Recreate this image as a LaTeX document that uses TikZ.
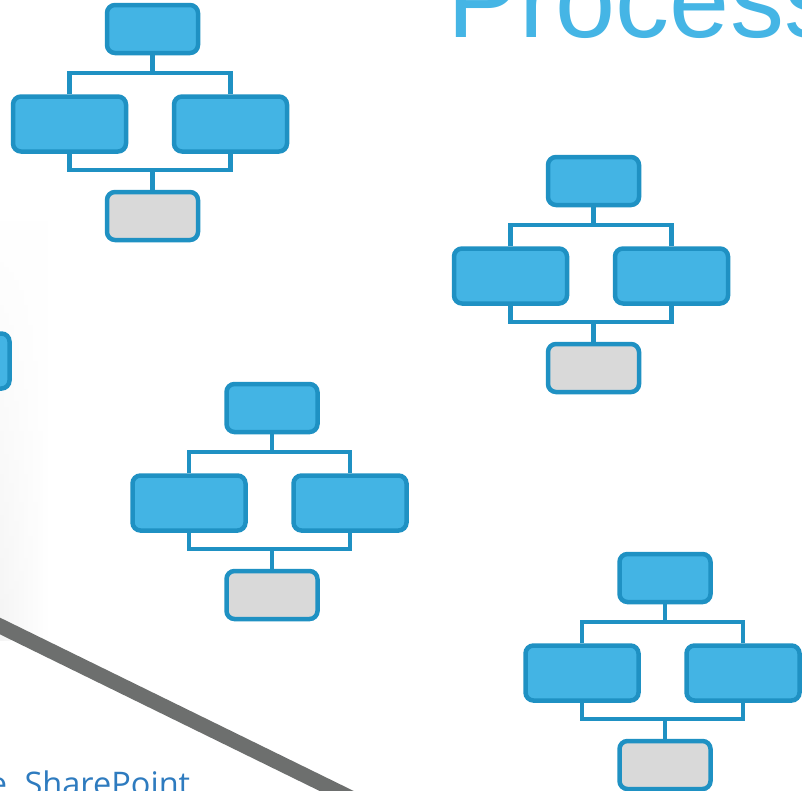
\documentclass[tikz,border=0pt]{standalone}
\usepackage{fontspec}
\usetikzlibrary{fadings}
\definecolor{boxfill}{HTML}{43B4E4}
\definecolor{boxline}{HTML}{1F91C3}
\definecolor{greyfill}{HTML}{D9D9D9}
\definecolor{titleblue}{HTML}{45B5E5}
\definecolor{spblue}{HTML}{2E7BBF}
\definecolor{rulegrey}{HTML}{6D6F6E}
\newfontfamily\titlefont{Liberation Sans}
\newfontfamily\spfont{Open Sans}
\tikzset{
  bluebox/.style={draw=boxline, fill=boxfill, line width=4.5pt, rounded corners=8pt, inner sep=0pt},
  greybox/.style={bluebox, fill=greyfill},
  conn/.style={draw=boxline, line width=4.5pt},
  diag/.style={draw=rulegrey, line width=15pt}
}
\newcommand\flowmodule[3]{%
  \begin{scope}[shift={(#2,#3)}]
    \node[bluebox, minimum width=91pt, minimum height=48pt] (#1t) at (0,26) {};
    \node[bluebox, minimum width=113pt, minimum height=55pt] (#1l) at (-83,121) {};
    \node[bluebox, minimum width=113pt, minimum height=55pt] (#1r) at (78,121) {};
    \node[greybox, minimum width=91pt, minimum height=48pt] (#1b) at (0,213) {};
    \coordinate (#1j) at (0,70);
    \coordinate (#1k) at (0,167);
    \draw[conn] (#1l.north) |- (#1j) -| (#1r.north);
    \draw[conn] (#1t.south) -- (#1j);
    \draw[conn] (#1l.south) |- (#1k) -| (#1r.south);
    \draw[conn] (#1k) -- (#1b.north);
  \end{scope}}
\begin{document}
\begin{tikzpicture}[x=1pt,y=-1pt]
  \useasboundingbox (0,0) rectangle (802,790);
  \fill[white] (0,0) rectangle (802,790);
  % faint shadow on the left
  \shade[left color=black!4, right color=white, path fading=north] (0,220) rectangle (50,640);
  % diagonal rule
  \coordinate (d1) at (-20,616.2);
  \coordinate (d2) at (380,812.2);
  \draw[diag] (d1) -- (d2);
  % modules
  \flowmodule{ma}{152.5}{3}
  \flowmodule{mb}{593.5}{155}
  \flowmodule{mc}{272}{382}
  \flowmodule{md}{665}{552}
  \flowmodule{me}{-125}{240}
  % texts
  \node[anchor=base west, inner sep=0pt, text=titleblue, font=\titlefont\fontsize{108}{108}\selectfont] (title) at (447.7,37) {Process};
  \node[anchor=base west, inner sep=0pt, text=spblue, font=\spfont\fontsize{32.5}{32.5}\selectfont] (sp) at (-11.3,795) {e\hspace{17.5pt}SharePoint};
\end{tikzpicture}
\end{document}
